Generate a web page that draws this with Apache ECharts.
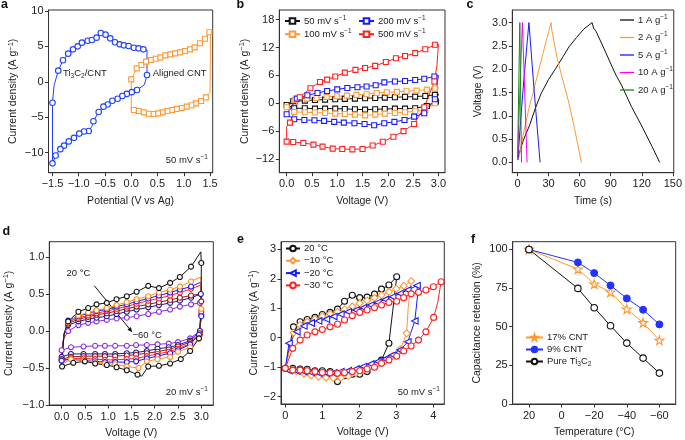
<!DOCTYPE html>
<html><head><meta charset="utf-8">
<script src="https://cdn.jsdelivr.net/npm/echarts@6/dist/echarts.min.js"></script>
<style>html,body{margin:0;padding:0;background:#fff}#c{width:685px;height:440px}</style>
</head><body><div id="c"></div>
<script>
// ---------------- DATA ----------------
// panel a (potential V vs Ag, current density A/g); third element 0 = no marker
const aTi3C2CNT = [[-1.5,-11.8,0],[-1.5,-11.5],[-1.5,-2.94],[-1.47,-0.5,0],[-1.39,1.58],[-1.30,3.04],[-1.20,3.98],[-1.11,4.59],[-1.02,5.01],[-0.94,5.53],[-0.83,5.81],[-0.75,5.91],[-0.66,6.24],[-0.58,6.89],[-0.49,6.66],[-0.40,6.14],[-0.31,5.58],[-0.22,5.29],[-0.14,5.15],[-0.05,5.06],[0.05,4.82],[0.14,4.73],[0.23,4.59],[0.30,4.5,0],[0.30,0.96],[0.25,-0.4,0],[0.11,-1.15],[0.01,-1.45],[-0.085,-1.7],[-0.17,-2.0],[-0.26,-2.38],[-0.36,-2.66],[-0.45,-3.2],[-0.53,-3.5],[-0.62,-4.26],[-0.72,-5.55],[-0.75,-6.3,0],[-0.81,-6.94],[-0.90,-7.0],[-0.99,-7.3],[-1.09,-7.9],[-1.19,-8.4],[-1.28,-9.0],[-1.35,-9.5],[-1.44,-10.4],[-1.5,-11.6,0]];
const aAlignedCNT = [[0,-4.0,0],[0,0.35],[0.105,1.9],[0.194,2.38],[0.283,2.85],[0.377,3.08],[0.466,3.27],[0.555,3.46],[0.65,3.74],[0.745,3.88],[0.834,4.02],[0.929,4.16],[1.024,4.35],[1.119,4.59],[1.207,4.87],[1.309,5.44],[1.404,6.09],[1.487,6.99],[1.51,7.3,0],[1.5,-1.5,0],[1.42,-2.19],[1.33,-2.7],[1.23,-3.04],[1.145,-3.3],[1.056,-3.5],[0.96,-3.7],[0.865,-3.83],[0.776,-3.98],[0.687,-4.12],[0.593,-4.3],[0.51,-4.45],[0.42,-4.54],[0.33,-4.5],[0.24,-4.3],[0.14,-4.12],[0.05,-3.98],[0,-4.0,0]];
// panel b (voltage V, current density A/g)
const b50 = [[0,-0.36],[0.13,0.43],[0.36,0.58],[0.56,0.72],[0.76,0.79],[0.96,0.86],[1.15,0.94],[1.35,1.0],[1.55,1.08],[1.75,1.15],[1.94,1.22],[2.14,1.3],[2.34,1.37],[2.54,1.44],[2.74,1.58],[2.93,1.8],[3.0,2.0,0],[2.95,0.36],[2.77,-0.58],[2.54,-1.08],[2.34,-1.15],[2.14,-1.15],[1.94,-1.22],[1.75,-1.3],[1.55,-1.37],[1.35,-1.3],[1.15,-1.22],[0.96,-1.15],[0.76,-1.15],[0.56,-1.15],[0.36,-1.08],[0.15,-1.08],[0,-0.36,0]];
const b100 = [[0,-0.86],[0.16,0.72],[0.4,1.0],[0.59,1.15],[0.79,1.37],[0.99,1.5],[1.19,1.65],[1.38,1.8],[1.58,1.94],[1.78,2.23],[1.98,2.37],[2.18,2.45],[2.37,2.6],[2.57,2.73],[2.77,2.95],[2.93,3.17],[3.0,3.45,0],[2.93,0.0],[2.74,-1.44],[2.54,-1.73],[2.34,-1.94],[2.14,-2.09],[1.94,-2.23],[1.75,-2.45],[1.55,-2.6],[1.35,-2.45],[1.15,-2.3],[0.96,-2.23],[0.76,-2.09],[0.56,-2.0],[0.36,-1.94],[0.15,-1.87],[0,-0.86,0]];
const b200 = [[0,-2.37],[0.2,1.0],[0.41,1.73],[0.61,2.23],[0.8,2.66],[1.0,3.0],[1.2,3.3],[1.4,3.45],[1.58,3.6],[1.76,3.9],[1.93,4.5],[2.14,4.7],[2.34,4.8],[2.54,5.0],[2.72,5.3],[2.92,5.76],[3.0,6.0,0],[2.93,0.86],[2.72,-2.16],[2.52,-2.88],[2.33,-3.6],[2.13,-4.0],[1.93,-4.3],[1.73,-4.75],[1.54,-4.46],[1.34,-4.3],[1.13,-4.17],[0.94,-4.0],[0.74,-3.8],[0.55,-3.67],[0.35,-3.6],[0.15,-3.45],[0,-2.37,0]];
const b500 = [[0,-8.27,0],[0,-5.0,0],[0.066,-4.17],[0.26,1.3],[0.47,3.24],[0.66,4.6],[0.8,5.1],[0.96,5.76],[1.15,6.6],[1.36,7.2],[1.55,7.6],[1.75,8.06],[1.96,8.9],[2.16,9.7],[2.34,10.2],[2.54,10.8],[2.74,11.65],[2.93,12.6],[3.0,12.7,0],[2.97,8.0,0],[2.92,4.7],[2.72,-0.86],[2.52,-4.46],[2.31,-6.0],[2.11,-7.2],[1.9,-8.3],[1.7,-9.1],[1.5,-9.86],[1.3,-9.93],[1.1,-9.86],[0.91,-9.78],[0.71,-9.35],[0.53,-8.9],[0.33,-8.56],[0.13,-8.35],[0,-8.27]];
// panel c (time s, voltage V)
const c1 = [[0.6,0.1],[3,0.3],[6,0.5],[11.7,0.8],[17,1.15],[22.8,1.48],[30,1.78],[37,2.02],[44,2.27],[49.7,2.48],[57,2.68],[64,2.86],[72,3.0],[73.5,2.88],[75.9,2.81],[85,2.37],[92,2.02],[95.6,1.85],[100,1.68],[110,1.2],[120,0.78],[130,0.34],[137.3,0.0]];
const c2 = [[0.5,0.05],[2.2,0.2],[5,0.55],[8.5,0.91],[12,1.25],[14.8,1.48],[18,1.77],[21.2,2.05],[24.5,2.33],[27.5,2.59],[30,2.8],[32.3,3.0],[33,2.85],[38.6,2.2],[44,1.75],[49.7,1.27],[55,0.73],[61.7,0.0]];
const c5 = [[0.3,0.05],[3,0.9],[6,1.75],[11,3.0],[16,1.55],[21.8,0.0]];
const c10 = [[0.2,0.1],[2.5,1.7],[4.7,3.0],[9.2,0.0]];
const c20 = [[0.1,0.1],[1.2,1.7],[2.2,3.0],[3.8,0.0]];
// panel d (voltage V, current density A/g), 20 °C -> -60 °C
const d20 = [[0,-0.48,0],[0.05,-0.05,0],[0.14,0.13],[0.36,0.26],[0.57,0.31],[0.75,0.36],[0.97,0.38],[1.18,0.43],[1.4,0.47],[1.61,0.53],[1.86,0.61],[2.09,0.58],[2.33,0.65],[2.54,0.73],[2.78,0.87],[2.99,1.07,0],[3.0,0.92],[3.0,0.3,0],[2.95,-0.1],[2.76,-0.27],[2.56,-0.38],[2.33,-0.44],[2.09,-0.47],[1.86,-0.48],[1.72,-0.61,0],[1.63,-0.59],[1.4,-0.53],[1.18,-0.49],[0.97,-0.46],[0.72,-0.44],[0.5,-0.41],[0.25,-0.43],[0.01,-0.48]];
const d10 = [[0,-0.45,0],[0.05,-0.05,0],[0.14,0.12],[0.36,0.21],[0.57,0.25],[0.75,0.28],[0.97,0.31],[1.18,0.35],[1.4,0.39],[1.61,0.43],[1.86,0.47],[2.09,0.52],[2.33,0.56],[2.54,0.6],[2.78,0.67],[2.99,0.73,0],[3.0,0.3],[2.95,-0.1],[2.76,-0.22],[2.5,-0.28],[2.33,-0.35],[2.06,-0.38],[1.83,-0.41],[1.65,-0.5],[1.4,-0.48],[1.15,-0.45],[0.93,-0.44],[0.72,-0.42],[0.47,-0.4],[0.2,-0.38],[0,-0.45,0]];
const d0 = [[0,-0.4,0],[0.05,-0.04,0],[0.14,0.14],[0.36,0.2],[0.57,0.24],[0.75,0.27],[0.97,0.29],[1.18,0.33],[1.4,0.36],[1.61,0.4],[1.86,0.44],[2.09,0.48],[2.33,0.52],[2.54,0.56],[2.78,0.6],[2.99,0.66,0],[3.0,0.2],[2.95,-0.05],[2.76,-0.18],[2.5,-0.26],[2.33,-0.3],[2.06,-0.34],[1.83,-0.37],[1.6,-0.41],[1.4,-0.42],[1.15,-0.42],[0.93,-0.42],[0.72,-0.41],[0.47,-0.4],[0.2,-0.38],[0,-0.4]];
const dm20 = [[0,-0.4,0],[0.05,-0.05,0],[0.14,0.12],[0.36,0.18],[0.57,0.21],[0.75,0.24],[0.97,0.27],[1.18,0.3],[1.4,0.33],[1.61,0.37],[1.86,0.41],[2.09,0.44],[2.33,0.48],[2.54,0.52],[2.78,0.57],[2.99,0.62,0],[3.0,0.26],[2.97,-0.05],[2.76,-0.17],[2.5,-0.24],[2.3,-0.28],[2.06,-0.31],[1.83,-0.34],[1.6,-0.37],[1.4,-0.38],[1.15,-0.39],[0.93,-0.39],[0.72,-0.38],[0.47,-0.37],[0.2,-0.37],[0,-0.4]];
const dm30 = [[0,-0.38,0],[0.05,-0.05,0],[0.14,0.1],[0.36,0.16],[0.57,0.19],[0.75,0.22],[0.97,0.24],[1.18,0.27],[1.4,0.3],[1.61,0.33],[1.86,0.36],[2.09,0.39],[2.33,0.42],[2.54,0.45],[2.78,0.48],[2.99,0.5,0],[3.0,0.4],[2.97,-0.03],[2.76,-0.15],[2.5,-0.21],[2.3,-0.25],[2.06,-0.28],[1.83,-0.3],[1.6,-0.32],[1.4,-0.33],[1.15,-0.34],[0.93,-0.34],[0.72,-0.34],[0.47,-0.34],[0.2,-0.35],[0,-0.38]];
const dm40 = [[0,-0.35,0],[0.05,-0.06,0],[0.14,0.08],[0.36,0.13],[0.57,0.16],[0.75,0.18],[0.97,0.2],[1.18,0.23],[1.4,0.26],[1.61,0.29],[1.86,0.32],[2.09,0.35],[2.33,0.38],[2.54,0.41],[2.78,0.45],[2.99,0.5],[3.0,0.3,0],[2.97,0.0],[2.76,-0.13],[2.5,-0.19],[2.3,-0.22],[2.06,-0.24],[1.83,-0.27],[1.6,-0.29],[1.4,-0.3],[1.15,-0.31],[0.93,-0.31],[0.72,-0.31],[0.47,-0.31],[0.2,-0.31],[0,-0.35]];
const dm60 = [[0,-0.26,0],[0.05,-0.1,0],[0.14,0.0],[0.36,0.08],[0.57,0.11],[0.75,0.13],[0.97,0.15],[1.18,0.17],[1.4,0.18],[1.61,0.2],[1.86,0.23],[2.09,0.26],[2.33,0.29],[2.54,0.33],[2.78,0.36],[2.97,0.38],[3.0,0.22],[2.97,0.0,0],[2.76,-0.1],[2.5,-0.15],[2.3,-0.17],[2.06,-0.18],[1.83,-0.19],[1.6,-0.19],[1.4,-0.2],[1.15,-0.2],[0.93,-0.2],[0.72,-0.2],[0.47,-0.21],[0.2,-0.22],[0,-0.26]];
// panel e (voltage V, current density A/g)
const e20 = [[0,-1.04],[0.22,0.37],[0.4,0.54],[0.59,0.62],[0.8,0.69],[1.0,0.79],[1.21,0.86],[1.41,0.97],[1.6,1.24],[1.81,1.44],[2.01,1.36],[2.21,1.38],[2.41,1.48],[2.6,1.65],[2.8,1.79],[3.01,2.07],[2.9,0.88,0],[2.8,-0.19],[2.6,-0.76],[2.41,-0.98],[2.21,-1.15],[2.01,-1.24],[1.81,-1.24],[1.6,-1.29],[1.41,-1.49],[1.21,-1.15],[1.0,-1.12],[0.8,-1.12],[0.59,-1.07],[0.4,-1.06],[0.2,-1.04],[0,-1.04,0]];
const em10 = [[0,-1.04,0],[0.22,0.17],[0.4,0.43],[0.59,0.54],[0.8,0.63],[1.0,0.73],[1.21,0.81],[1.41,0.88],[1.6,0.96],[1.81,1.06],[2.01,1.17],[2.21,1.26],[2.41,1.35],[2.6,1.45],[2.8,1.56],[3.0,1.66],[3.2,1.76],[3.4,1.92],[3.32,1.0,0],[3.28,0.15],[3.1,-0.4],[2.9,-0.62],[2.7,-0.78],[2.5,-0.88],[2.3,-0.98],[2.1,-1.1],[1.9,-1.2],[1.7,-1.3],[1.5,-1.36],[1.3,-1.36],[1.1,-1.35],[0.9,-1.32],[0.7,-1.28],[0.5,-1.22],[0.3,-1.14],[0.1,-1.08],[0,-1.04,0]];
const em20 = [[0,-1.04,0],[0.1,-0.19],[0.31,0.2],[0.5,0.4],[0.7,0.5],[0.9,0.57],[1.11,0.63],[1.31,0.72],[1.5,0.8],[1.7,0.88],[1.91,0.94],[2.11,1.02],[2.31,1.11],[2.5,1.2],[2.7,1.3],[2.9,1.39],[3.1,1.5],[3.31,1.62],[3.56,1.77],[3.58,1.5,0],[3.5,0.57],[3.31,-0.14],[3.1,-0.42],[2.9,-0.59],[2.7,-0.72],[2.5,-0.81],[2.31,-0.89],[2.11,-0.98],[1.91,-1.06],[1.7,-1.12],[1.5,-1.15],[1.31,-1.19],[1.11,-1.2],[0.9,-1.2],[0.7,-1.18],[0.5,-1.15],[0.31,-1.13],[0.1,-1.12],[0,-1.04,0]];
const em30 = [[0,-1.04],[0.2,-0.36],[0.4,-0.08],[0.59,0.09],[0.8,0.2],[1.0,0.28],[1.21,0.37],[1.41,0.46],[1.6,0.6],[1.81,0.75],[2.01,0.86],[2.21,0.94],[2.41,1.02],[2.6,1.11],[2.8,1.2],[3.01,1.24],[3.2,1.36],[3.4,1.49],[3.6,1.54],[3.8,1.62],[4.0,1.73],[4.21,1.9],[4.12,1.2,0],[4.01,0.69],[3.8,0.2],[3.6,-0.08],[3.4,-0.28],[3.2,-0.45],[3.01,-0.63],[2.8,-0.76],[2.6,-0.87],[2.41,-1.0],[2.21,-1.06],[2.01,-1.12],[1.81,-1.15],[1.6,-1.19],[1.41,-1.21],[1.21,-1.19],[1.0,-1.18],[0.8,-1.15],[0.59,-1.12],[0.4,-1.1],[0.2,-1.1],[0,-1.04,0]];
// panel f (temperature °C, capacitance retention %)
const fTemps = [20,-10,-20,-30,-40,-50,-60];
const f17CNT = [100,87.3,77.6,72.4,61.4,52.6,41.2];
const f9CNT = [100,91.6,84.7,76.7,68.3,61.0,51.5];
const fPure = [100,74.8,62.3,50.6,39.4,29.7,20.0];
// tick values
const aXTicks = [-1.5,-1.0,-0.5,0,0.5,1.0,1.5], aYTicks = [-10,-5,0,5,10];
const bXTicks = [0,0.5,1,1.5,2,2.5,3], bYTicks = [-12,-6,0,6,12,18];
const cXTicks = [0,30,60,90,120,150], cYTicks = [0,0.5,1,1.5,2,2.5,3];
const dXTicks = [0,0.5,1,1.5,2,2.5,3], dYTicks = [-1,-0.5,0,0.5,1];
const eXTicks = [0,1,2,3,4], eYTicks = [-2,-1,0,1,2,3];
const fXTicks = [20,0,-20,-40,-60], fYTicks = [0,25,50,75,100];

// ---------------- CHART ----------------
const FONT = '"Liberation Sans", Arial, sans-serif';
const TXT = '#222';
const fmt = d => v => (v < 0 ? '\u2212' : '') + Math.abs(v).toFixed(d);
const richDefs = {
  t: {fontSize: 10.5, fontFamily: FONT, color: TXT, lineHeight: 14},
  p: {fontSize: 7.5, fontFamily: FONT, color: TXT, verticalAlign: 'top'},
  s: {fontSize: 7.5, fontFamily: FONT, color: TXT, verticalAlign: 'bottom'}
};
const smallRich = {
  t: {fontSize: 9.5, fontFamily: FONT, color: TXT, lineHeight: 13},
  p: {fontSize: 6.5, fontFamily: FONT, color: TXT, verticalAlign: 'top'},
  s: {fontSize: 6.5, fontFamily: FONT, color: TXT, verticalAlign: 'bottom'}
};
const grids = [
  {left: 48.5, top: 10, width: 164.2, height: 162.7},
  {left: 279.3, top: 10, width: 165.7, height: 162.7},
  {left: 512.3, top: 10, width: 164.4, height: 162.7},
  {left: 49.3, top: 241.7, width: 164, height: 163.3},
  {left: 281, top: 241.7, width: 163.3, height: 162.3},
  {left: 512.7, top: 241.7, width: 163, height: 162.3}
].map(g => Object.assign({show: true, borderColor: '#333', borderWidth: 1, backgroundColor: 'transparent'}, g));

function axis(gi, min, max, ticks, dec, name, gap, isY, extra) {
  return Object.assign({
    type: 'value', gridIndex: gi, min, max,
    axisLine: {show: true, onZero: false, lineStyle: {color: '#333', width: 1}},
    axisTick: {show: true, customValues: ticks, length: 3.5, lineStyle: {color: '#333', width: 1}},
    axisLabel: {customValues: ticks, formatter: fmt(dec), fontSize: 11, fontFamily: FONT, color: TXT, margin: isY ? 5 : 6},
    splitLine: {show: false},
    name, nameLocation: 'middle', nameGap: gap,
    nameTextStyle: {fontSize: 10.5, fontFamily: FONT, color: TXT, rich: richDefs}
  }, extra || {});
}
const CD = '{t|Current density (A g}{p|\u22121}{t|)}';
const xAxes = [
  axis(0, -1.576, 1.551, aXTicks, 1, '{t|Potential (V vs Ag)}', 21),
  axis(1, -0.145, 3.13, bXTicks, 1, '{t|Voltage (V)}', 21),
  axis(2, -5.06, 150.9, cXTicks, 0, '{t|Time (s)}', 21),
  axis(3, -0.265, 3.258, dXTicks, 1, '{t|Voltage (V)}', 21),
  axis(4, -0.117, 4.297, eXTicks, 0, '{t|Voltage (V)}', 21),
  axis(5, -70, 30, fXTicks, 0, '{t|Temperature (\u00b0C)}', 21, false, {inverse: true})
];
const yAxes = [
  axis(0, -12.82, 10.14, aYTicks, 0, CD, 28, true),
  axis(1, -14.96, 20.1, bYTicks, 0, CD, 27, true),
  axis(2, -0.22, 3.27, cYTicks, 1, '{t|Voltage (V)}', 27, true),
  axis(3, -1.0, 1.207, dYTicks, 1, CD, 33, true),
  axis(4, -2.25, 3.26, eYTicks, 0, CD, 17, true),
  axis(5, 0, 105, fYTicks, 0, '{t|Capacitance retention (%)}', 29, true)
];

function toData(arr) {
  return arr.map(p => p.length > 2 ? {value: [p[0], p[1]], symbol: 'none'} : [p[0], p[1]]);
}
function ser(name, data, gi, color, symbol, size, opt) {
  return Object.assign({
    type: 'line', name, xAxisIndex: gi, yAxisIndex: gi, data: toData(data),
    symbol, symbolSize: size, showSymbol: symbol !== 'none',
    lineStyle: {color, width: 1},
    itemStyle: {color: '#fff', borderColor: color, borderWidth: 1.1},
    emphasis: {disabled: true}, silent: true, clip: false, smooth: false
  }, opt || {});
}
const STAR = 'path://M50,2 L61,37 L98,37 L68,59 L79,95 L50,73 L21,95 L32,59 L2,37 L39,37 Z';
const ORANGE = '#ff9933', BLUE = '#1a1aff', RED = '#ff2020';
const series = [
  ser('Ti3C2/CNT', aTi3C2CNT, 0, '#2040ff', 'circle', 5.5),
  ser('Aligned CNT', aAlignedCNT, 0, ORANGE, 'rect', 5),
  ser('50 mV s', b50, 1, '#111', 'rect', 5),
  ser('100 mV s', b100, 1, ORANGE, 'rect', 5),
  ser('200 mV s', b200, 1, BLUE, 'rect', 5),
  ser('500 mV s', b500, 1, RED, 'rect', 5),
  ser('1 A g', c1, 2, '#111', 'none', 0, {itemStyle: {color: '#111'}}),
  ser('2 A g', c2, 2, ORANGE, 'none', 0, {itemStyle: {color: ORANGE}}),
  ser('5 A g', c5, 2, BLUE, 'none', 0, {itemStyle: {color: BLUE}}),
  ser('10 A g', c10, 2, '#ff00ff', 'none', 0, {itemStyle: {color: '#ff00ff'}}),
  ser('20 A g', c20, 2, '#1a8a1a', 'none', 0, {itemStyle: {color: '#1a8a1a'}}),
  ser('d -60', dm60, 3, '#8c2be2', 'circle', 5),
  ser('d -40', dm40, 3, '#1a1a8c', 'circle', 5),
  ser('d -30', dm30, 3, '#8b1a1a', 'circle', 5),
  ser('d -20', dm20, 3, RED, 'circle', 5),
  ser('d 0', d0, 3, BLUE, 'circle', 5),
  ser('d 10', d10, 3, '#ff8c1a', 'circle', 5),
  ser('d 20', d20, 3, '#111', 'circle', 5),
  ser('20 \u00b0C', e20, 4, '#111', 'circle', 6),
  ser('\u221210 \u00b0C', em10, 4, ORANGE, 'diamond', 7),
  ser('\u221220 \u00b0C', em20, 4, BLUE, 'triangle', 6.5, {symbolRotate: 90}),
  ser('\u221230 \u00b0C', em30, 4, RED, 'circle', 6),
  ser('17% CNT', fTemps.map((t, i) => [t, f17CNT[i]]), 5, ORANGE, STAR, 9),
  ser('9% CNT', fTemps.map((t, i) => [t, f9CNT[i]]), 5, '#2233ff', 'circle', 7, {itemStyle: {color: '#2233ff', borderColor: '#2233ff', borderWidth: 1}}),
  ser('Pure Ti3C2', fTemps.map((t, i) => [t, fPure[i]]), 5, '#111', 'circle', 6.5)
];

const legendFmt = {
  'Pure Ti3C2': '{t|Pure Ti}{s|3}{t|C}{s|2}'
};
function legend(names, left, top, iw, gap, sup, extra) {
  return Object.assign({
    data: names, left, top, orient: 'vertical', itemWidth: iw, itemHeight: 7, itemGap: gap, padding: 0,
    selectedMode: false,
    textStyle: {fontSize: 9.5, fontFamily: FONT, color: TXT, rich: smallRich, padding: [0, 0, 0, -1]},
    formatter: n => legendFmt[n] || ('{t|' + n + '}' + (sup ? '{p|\u22121}' : ''))
  }, extra || {});
}
const legends = [
  legend(['50 mV s', '100 mV s'], 284, 14.5, 15, 1.7, true),
  legend(['200 mV s', '500 mV s'], 358, 14.5, 15, 1.7, true),
  legend(['1 A g', '2 A g', '5 A g', '10 A g', '20 A g'], 620, 13.5, 14, 6, true, {icon: 'rect', itemHeight: 1.3}),
  legend(['20 \u00b0C', '\u221210 \u00b0C', '\u221220 \u00b0C', '\u221230 \u00b0C'], 285, 243.5, 14, 2.3, false),
  legend(['17% CNT', '9% CNT', 'Pure Ti3C2'], 525, 332.5, 17, 2, false)
];

function txt(x, y, rich, opts) {
  return {type: 'text', silent: true, style: Object.assign({x, y, text: rich, rich: smallRich, verticalAlign: 'middle', align: 'left', fill: TXT, font: '9.5px ' + FONT}, opts || {})};
}
function letter(x, y, ch) {
  return {type: 'text', silent: true, style: {x, y, text: ch, fill: '#111', font: 'bold 12.5px ' + FONT, verticalAlign: 'middle'}};
}
const graphic = [
  letter(1, 4.5, 'a'), letter(236.5, 4.5, 'b'), letter(466.5, 4.5, 'c'),
  letter(2.5, 231.5, 'd'), letter(237, 239.5, 'e'), letter(471, 239.5, 'f'),
  txt(63, 73, '{t|Ti}{s|3}{t|C}{s|2}{t|/CNT}'),
  txt(152.7, 73, '{t|Aligned CNT}'),
  txt(165.7, 160, '{t|50 mV s}{p|\u22121}'),
  txt(66.5, 273.3, '{t|20 \u00b0C}'),
  txt(132.5, 335, '{t|\u221260 \u00b0C}'),
  txt(165.7, 392.3, '{t|20 mV s}{p|\u22121}'),
  txt(397.7, 392.7, '{t|50 mV s}{p|\u22121}'),
  {type: 'line', silent: true, shape: {x1: 94.3, y1: 285.7, x2: 130.5, y2: 330.1}, style: {stroke: '#111', lineWidth: 1}},
  {type: 'polygon', silent: true, shape: {points: [[132.3, 332.3], [127.4, 329.8], [130.8, 327.0]]}, style: {fill: '#111'}}
];

const chart = echarts.init(document.getElementById('c'), null, {renderer: 'canvas'});
chart.setOption({
  backgroundColor: '#fff', animation: false,
  grid: grids, xAxis: xAxes, yAxis: yAxes, series, legend: legends, graphic
});
</script></body></html>
